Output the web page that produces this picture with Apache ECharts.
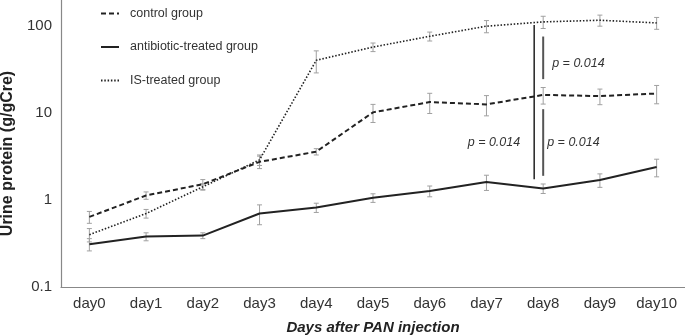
<!DOCTYPE html>
<html>
<head>
<meta charset="utf-8">
<script src="https://cdn.jsdelivr.net/npm/echarts@6/dist/echarts.min.js"></script>
<style>
  html, body { margin: 0; padding: 0; background: #fff; }
  #main { width: 685px; height: 336px; }
</style>
</head>
<body>
<div id="main"></div>
<script>
var days = ['day0', 'day1', 'day2', 'day3', 'day4', 'day5', 'day6', 'day7', 'day8', 'day9', 'day10'];

// mean values (g/gCre)
var controlMean = [0.64, 1.13, 1.52, 2.75, 3.6, 10.2, 13.4, 12.6, 16.2, 15.7, 16.8];
var antibioticMean = [0.31, 0.38, 0.39, 0.70, 0.82, 1.06, 1.27, 1.61, 1.36, 1.70, 2.4];
var isMean = [0.40, 0.70, 1.42, 2.9, 40.5, 57.5, 76.5, 100, 112, 117, 109];

// error (+/-)
var controlErr = [0.1, 0.11, 0.2, 0.45, 0.3, 2.4, 3.5, 3.3, 3.5, 3.2, 4];
var antibioticErr = [0.05, 0.04, 0.03, 0.18, 0.1, 0.12, 0.18, 0.32, 0.17, 0.3, 0.55];
var isErr = [0.07, 0.08, 0.12, 0.4, 11.5, 6.5, 9, 16, 18, 17, 17];

var yTicks = [0.1, 1, 10, 100];

// significance lines at day8: [from, to]
var bracketFrom = [103, 76, 11.1];
var bracketTo = [1.74, 24.6, 1.9];
var pLabels = ['p = 0.014', 'p = 0.014', 'p = 0.014'];
var pLabelAt = [37.6, 4.6, 4.6];

var FONT = '"Liberation Sans", Arial, sans-serif';
var LINE = '#222';

function errData(mean, err) {
  return mean.map(function (m, i) { return [i, m - err[i], m + err[i]]; });
}

function errRender(params, api) {
  var lo = api.coord([api.value(0), api.value(1)]);
  var hi = api.coord([api.value(0), api.value(2)]);
  var w = 2.5;
  var st = { stroke: '#a0a0a0', lineWidth: 1 };
  return {
    type: 'group',
    children: [
      { type: 'line', shape: { x1: hi[0], y1: hi[1], x2: lo[0], y2: lo[1] }, style: st },
      { type: 'line', shape: { x1: hi[0] - w, y1: hi[1], x2: hi[0] + w, y2: hi[1] }, style: st },
      { type: 'line', shape: { x1: lo[0] - w, y1: lo[1], x2: lo[0] + w, y2: lo[1] }, style: st }
    ]
  };
}

function errSeries(mean, err) {
  return {
    type: 'custom',
    renderItem: errRender,
    data: errData(mean, err),
    encode: { x: 0, y: [1, 2] },
    z: 1,
    silent: true
  };
}

var lineOffsets = [-9, 0, 0];
var labelOffsets = [9, -23, 4];
var labelAligns = ['left', 'right', 'left'];

var chart = echarts.init(document.getElementById('main'));

chart.setOption({
  animation: false,
  textStyle: { fontFamily: FONT },
  grid: { left: 61, right: 0, top: 0, bottom: 49, outerBoundsMode: 'none', containLabel: false },
  legend: {
    orient: 'vertical',
    left: 100,
    top: 6,
    padding: 0,
    itemWidth: 18,
    itemHeight: 14,
    itemGap: 18.5,
    itemStyle: { opacity: 0 },
    textStyle: { fontFamily: FONT, fontSize: 12.5, color: '#333', padding: [0, 0, 0, 3] },
    data: ['control group', 'antibiotic-treated group', 'IS-treated group']
  },
  xAxis: {
    type: 'category',
    data: days,
    boundaryGap: true,
    axisLine: { lineStyle: { color: '#888', width: 1.2 } },
    axisTick: { show: false },
    axisLabel: { color: '#333', fontSize: 15, margin: 9, fontFamily: FONT },
    name: 'Days after PAN injection',
    nameLocation: 'middle',
    nameGap: 33,
    nameTextStyle: { fontWeight: 'bold', fontStyle: 'italic', fontSize: 15, color: '#222', fontFamily: FONT }
  },
  yAxis: {
    type: 'log',
    logBase: 10,
    min: 0.1,
    max: 200,
    axisLine: { show: true, lineStyle: { color: '#888', width: 1.2 } },
    axisTick: { show: false },
    splitLine: { show: false },
    axisLabel: {
      color: '#333', fontSize: 15, margin: 9, fontFamily: FONT,
      showMaxLabel: false,
      formatter: function (v) {
        for (var i = 0; i < yTicks.length; i++) {
          if (Math.abs(v - yTicks[i]) < yTicks[i] * 1e-6) return String(yTicks[i]);
        }
        return '';
      }
    },
    name: 'Urine protein (g/gCre)',
    nameLocation: 'middle',
    nameGap: 44,
    nameTextStyle: { fontWeight: 'bold', fontSize: 16, color: '#222', fontFamily: FONT, padding: [0, 20, 0, 0] }
  },
  series: [
    errSeries(controlMean, controlErr),
    errSeries(antibioticMean, antibioticErr),
    errSeries(isMean, isErr),
    {
      name: 'control group',
      type: 'line',
      data: controlMean,
      symbol: 'none',
      z: 3,
      lineStyle: { color: LINE, width: 2, type: [5, 3] },
      itemStyle: { color: LINE }
    },
    {
      name: 'antibiotic-treated group',
      type: 'line',
      data: antibioticMean,
      symbol: 'none',
      z: 3,
      lineStyle: { color: LINE, width: 2 },
      itemStyle: { color: LINE }
    },
    {
      name: 'IS-treated group',
      type: 'line',
      data: isMean,
      symbol: 'none',
      z: 3,
      lineStyle: { color: LINE, width: 1.6, type: [1.5, 1.8] },
      itemStyle: { color: LINE }
    },
    {
      type: 'custom',
      silent: true,
      z: 4,
      data: bracketFrom.map(function (f, i) { return [8, f, bracketTo[i], i]; }),
      encode: { x: 0, y: [1, 2] },
      renderItem: function (params, api) {
        var k = api.value(3);
        var a = api.coord([api.value(0), api.value(1)]);
        var b = api.coord([api.value(0), api.value(2)]);
        var x = a[0] + lineOffsets[k];
        return {
          type: 'line',
          shape: { x1: x, y1: a[1], x2: x, y2: b[1] },
          style: { stroke: k === 0 ? '#222' : '#555', lineWidth: k === 0 ? 1.5 : 2 }
        };
      }
    },
    {
      type: 'custom',
      silent: true,
      z: 4,
      data: pLabelAt.map(function (v, i) { return [8, v, i]; }),
      renderItem: function (params, api) {
        var k = api.value(2);
        var p = api.coord([api.value(0), api.value(1)]);
        return {
          type: 'text',
          style: {
            x: p[0] + labelOffsets[k],
            y: p[1],
            text: pLabels[k],
            align: labelAligns[k],
            verticalAlign: 'middle',
            fontFamily: FONT,
            fontStyle: 'italic',
            fontSize: 12.5,
            fill: '#333'
          }
        };
      }
    }
  ]
}, true);

// legend spacing tweak to match row positions
chart.setOption({
  legend: { top: 7, itemGap: 20.5, textStyle: { padding: [0, 0, 0, 6] } }
});
</script>
</body>
</html>
